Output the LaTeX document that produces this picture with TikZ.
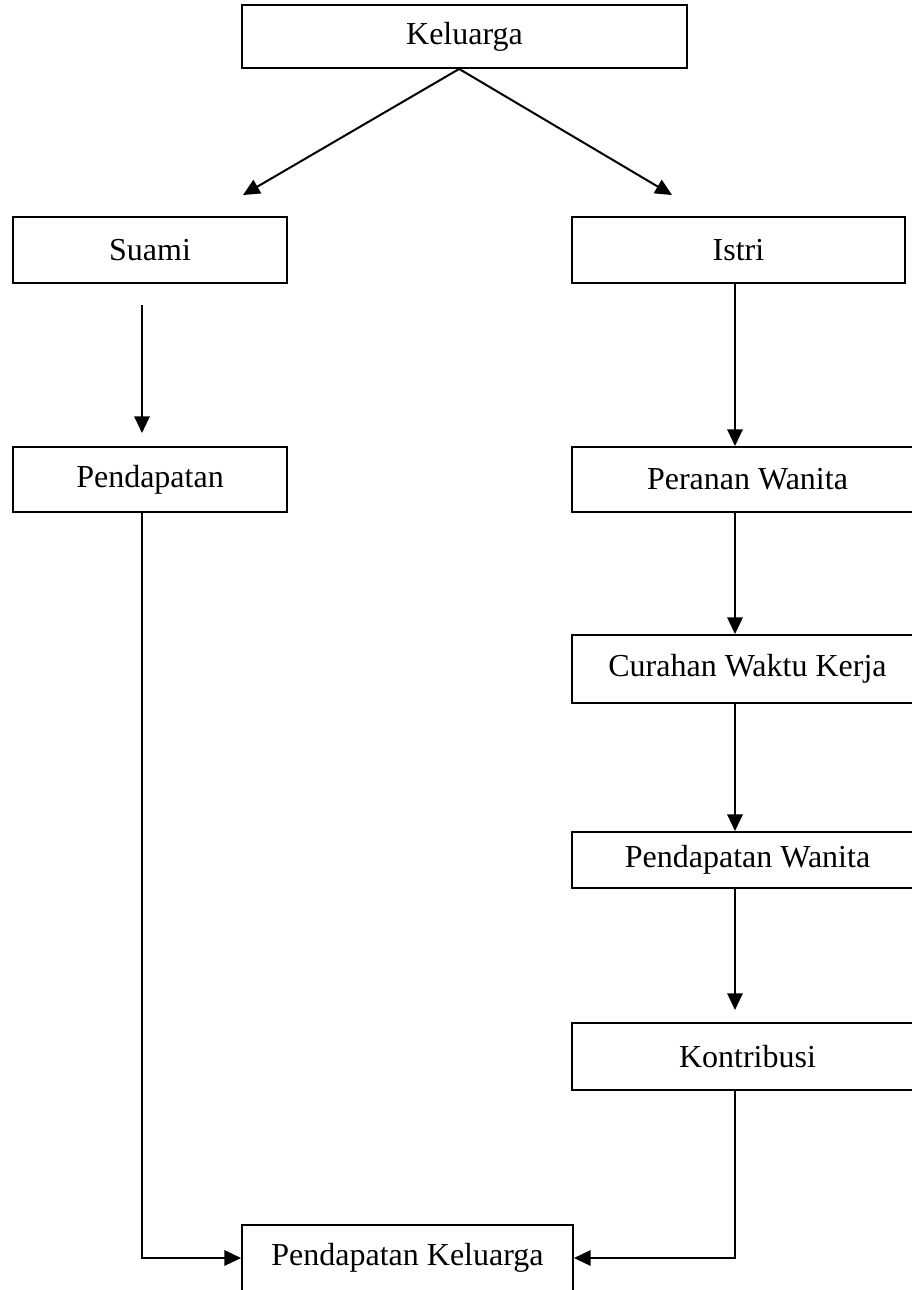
\documentclass[tikz,border=0pt]{standalone}
\usepackage{fontspec}
\setmainfont{Liberation Serif}
\usetikzlibrary{positioning,arrows.meta}

\begin{document}
\begin{tikzpicture}[x=0.75pt,y=-0.75pt,
    box/.style = {draw, line width=1.4pt, inner sep=0pt,
                  font=\fontsize{24}{28}\selectfont},
    arr/.style = {line width=1.5pt, -{Triangle[length=12.5pt,width=11.5pt]}},
    lin/.style = {line width=1.5pt}]
  \useasboundingbox (0,0) rectangle (912,1290);
  \clip (0,0) rectangle (912,1290);

  % boxes
  \node[box, minimum width=333.75pt, minimum height=47.25pt] (kel)   at (464.5,36.5) {Keluarga};
  \node[box, minimum width=205.5pt,  minimum height=49.5pt]  (suami) at (150,250)    {Suami};
  \node[box, minimum width=249.75pt, minimum height=49.5pt]  (istri) at (738.5,250)  {Istri};
  \node[box, minimum width=205.5pt,  minimum height=48.75pt] (pend)  at (150,479.5)  {Pendapatan};
  \node[box, minimum width=263.25pt, minimum height=48.75pt] (peran) at (747.5,479.5) {Peranan Wanita};
  \node[box, minimum width=263.25pt, minimum height=51pt]    (curah) at (747.5,669)  {Curahan Waktu Kerja};
  \node[box, minimum width=263.25pt, minimum height=42pt]    (pwan)  at (747.5,860)  {Pendapatan Wanita};
  \node[box, minimum width=263.25pt, minimum height=50.25pt] (kontr) at (747.5,1056.5) {Kontribusi};
  \node[box, minimum width=248.25pt, minimum height=49.5pt]  (pkel)  at (407.5,1258) {Pendapatan Keluarga};

  % free ends and columns
  \coordinate (lt) at (243,195);
  \coordinate (rt) at (672,195);
  \coordinate (lc) at (142,0);
  \coordinate (rc) at (735,0);
  \coordinate (sa) at (142,305);
  \coordinate (sb) at (142,433);
  \coordinate (kt) at (735,1010);

  % connectors
  \draw[arr] ([xshift=-4pt]kel.south) -- (lt);
  \draw[arr] ([xshift=-4pt]kel.south) -- (rt);
  \draw[arr] (sa) -- (sb);
  \draw[arr] (istri.south -| rc) -- (peran.north -| rc);
  \draw[arr] (peran.south -| rc) -- (curah.north -| rc);
  \draw[arr] (curah.south -| rc) -- (pwan.north -| rc);
  \draw[arr] (pwan.south -| rc) -- (kt);
  \draw[arr] (pend.south -| lc) |- (pkel.west);
  \draw[arr] (kontr.south -| rc) |- (pkel.east);
\end{tikzpicture}
\end{document}
